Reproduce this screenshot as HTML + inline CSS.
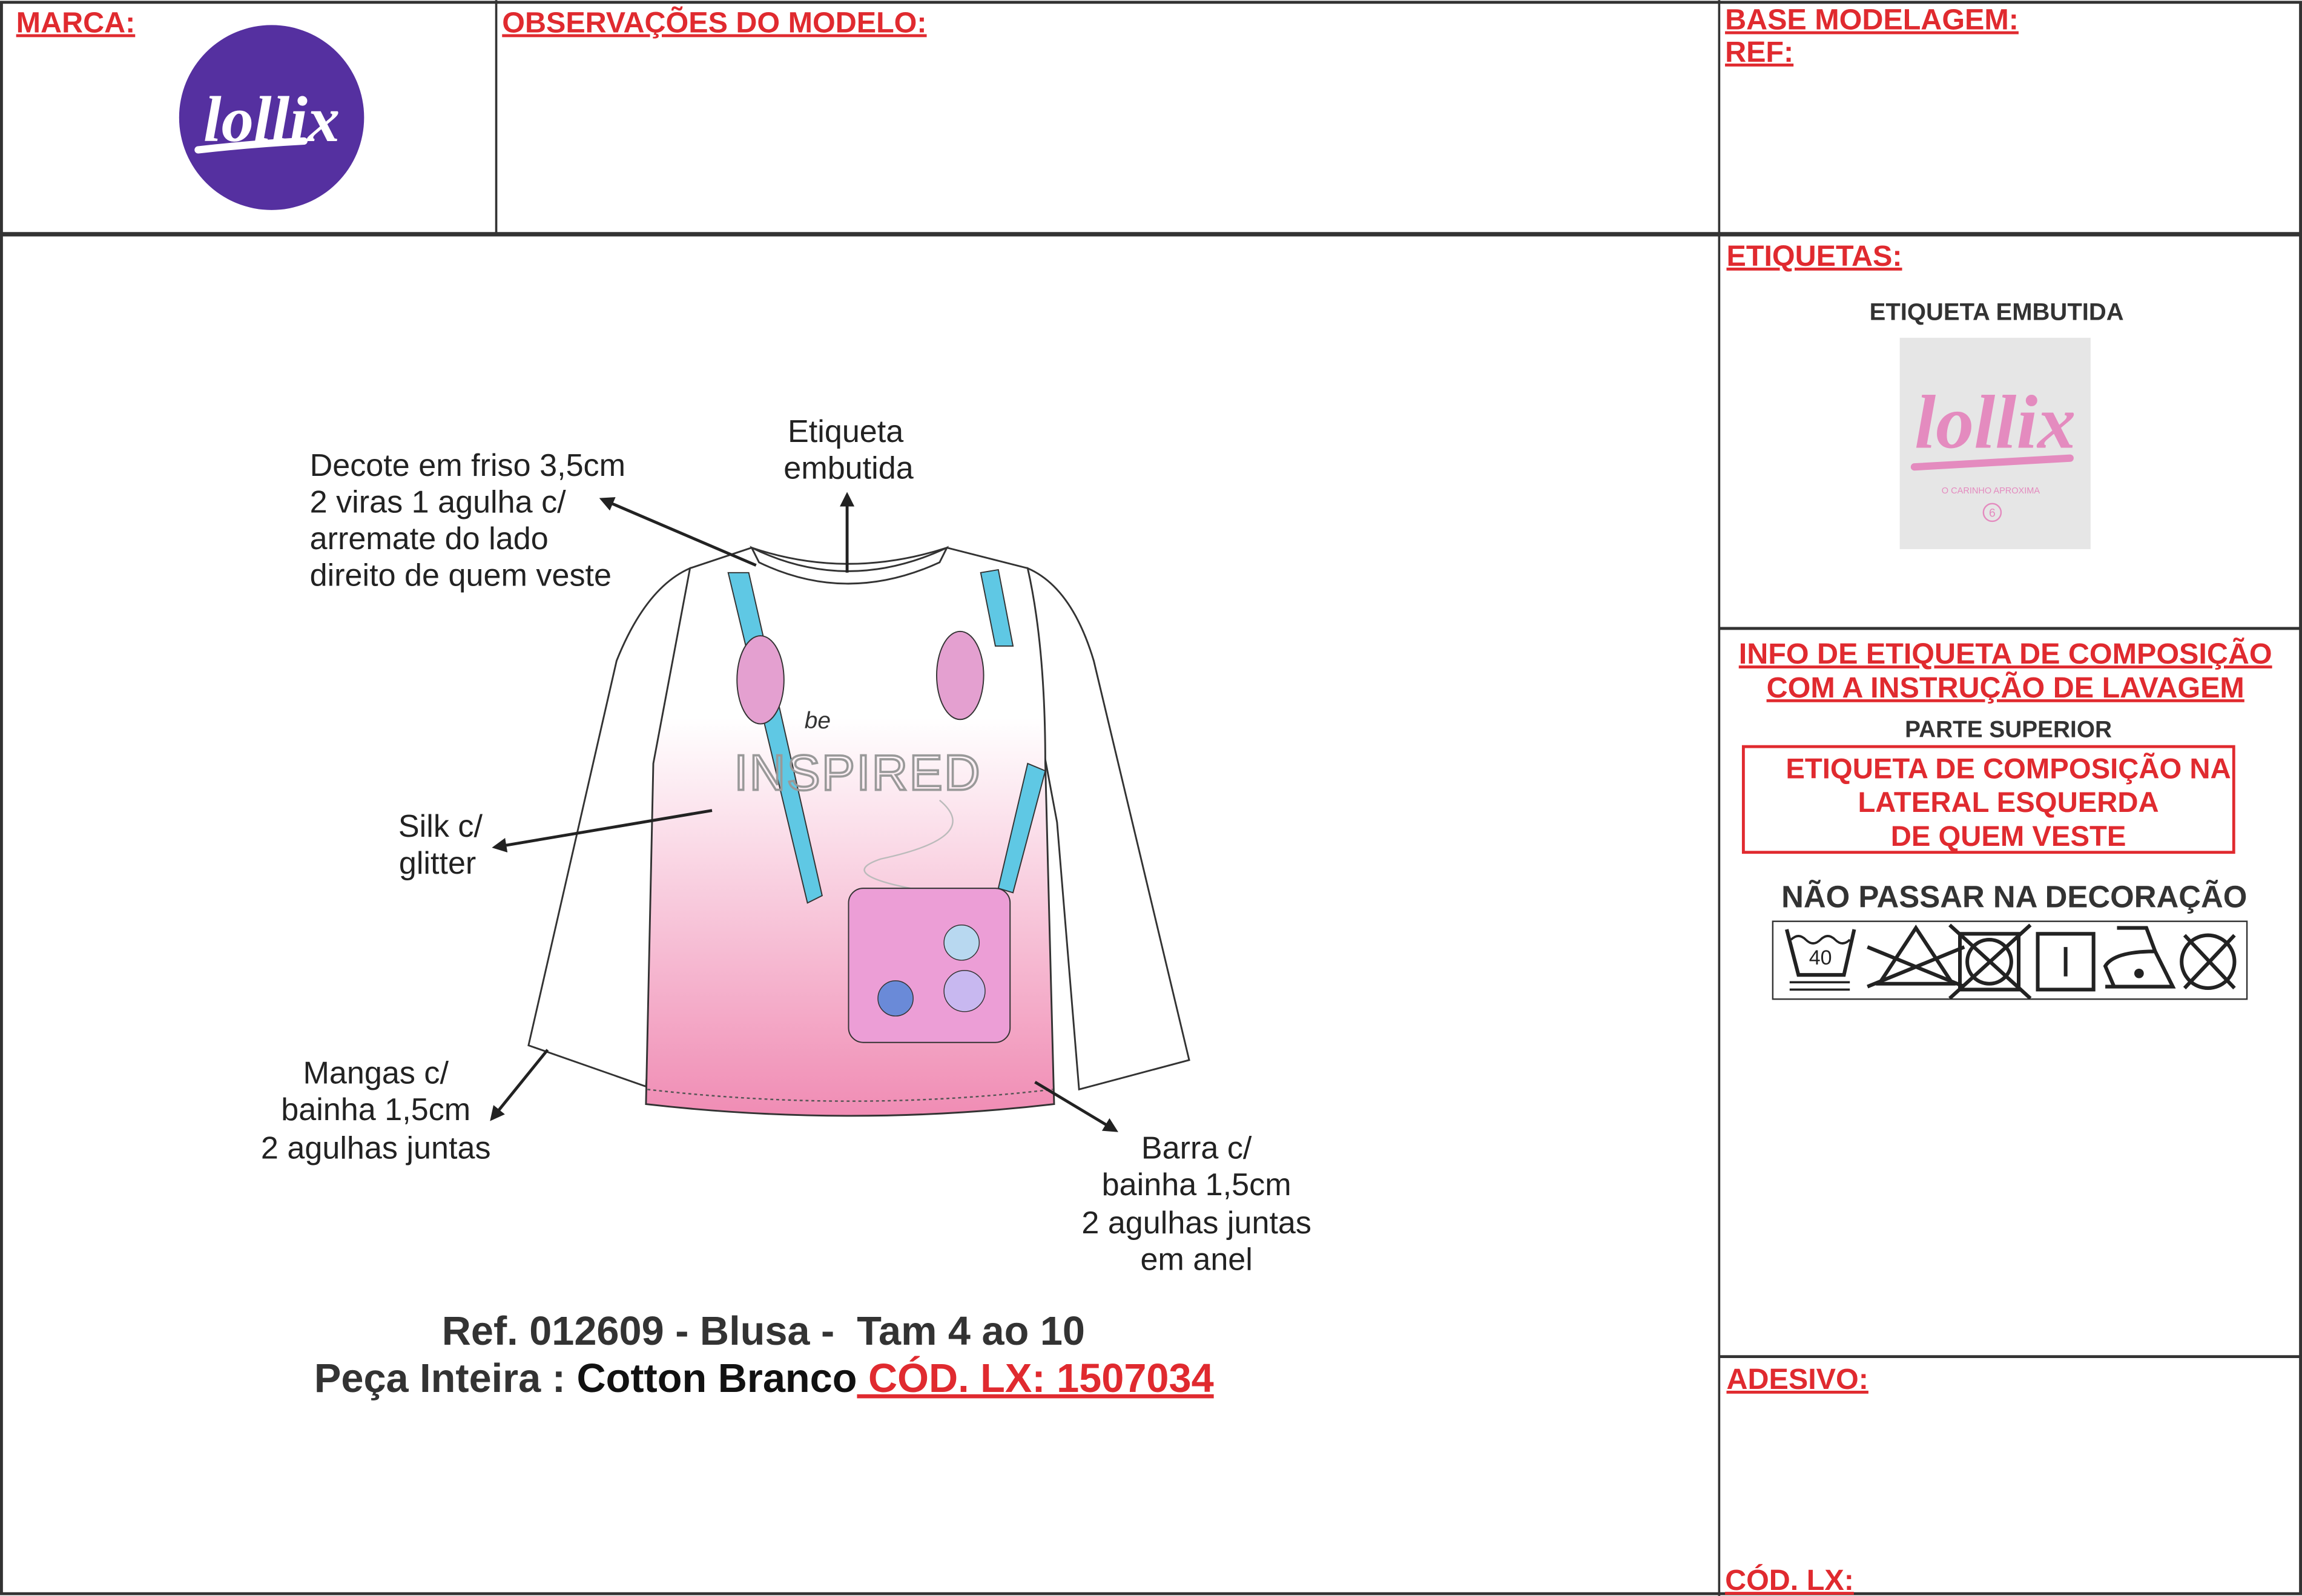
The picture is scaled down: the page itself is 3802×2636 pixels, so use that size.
<!DOCTYPE html>
<html><head><meta charset="utf-8"><style>html,body{margin:0;padding:0;background:#fff}svg{display:block}</style></head>
<body>
<svg width="3802" height="2636" viewBox="0 0 1568 1087" xmlns="http://www.w3.org/2000/svg" font-family="Liberation Sans, sans-serif">
<defs>
<linearGradient id="pk" x1="0" y1="0" x2="0" y2="1">
<stop offset="0" stop-color="#fff"/><stop offset="0.3" stop-color="#fff"/><stop offset="1" stop-color="#f08cb4"/>
</linearGradient>
<marker id="ar" markerWidth="10" markerHeight="10" refX="8" refY="5" orient="auto" markerUnits="userSpaceOnUse"><path d="M0,0 L10,5 L0,10 z" fill="#222"/></marker>
</defs>
<rect x="0" y="0" width="1568" height="1087" fill="#fff"/>
<g stroke="#333" fill="none">
<rect x="1" y="1.5" width="1566" height="1084" stroke-width="2"/>
<line x1="0" y1="159.5" x2="1568" y2="159.5" stroke-width="3"/>
<line x1="338" y1="0" x2="338" y2="159" stroke-width="1.5"/>
<line x1="1171" y1="0" x2="1171" y2="1087" stroke-width="1.5"/>
<line x1="1171" y1="428" x2="1568" y2="428" stroke-width="2"/>
<line x1="1171" y1="924" x2="1568" y2="924" stroke-width="2"/>
</g>
<g fill="#e02a2f" font-weight="bold" font-size="20" text-decoration="underline">
<text x="11" y="22">MARCA:</text>
<text x="342" y="22">OBSERVAÇÕES DO MODELO:</text>
<text x="1175" y="20">BASE MODELAGEM:</text>
<text x="1175" y="42">REF:</text>
<text x="1176" y="181">ETIQUETAS:</text>
<text x="1176" y="946">ADESIVO:</text>
<text x="1175" y="1083">CÓD. LX:</text>
</g>
<circle cx="185" cy="80" r="63" fill="#5530a0"/>
<text x="185" y="96" text-anchor="middle" fill="#fff" font-size="44" font-weight="bold" font-style="italic" font-family="Liberation Serif, serif">lollix</text>
<path d="M135,102 Q170,98 207,96" stroke="#fff" stroke-width="5" fill="none" stroke-linecap="round"/>
<text x="1360" y="218" text-anchor="middle" font-weight="bold" font-size="16.5" fill="#333">ETIQUETA EMBUTIDA</text>
<rect x="1294" y="230" width="130" height="144" fill="#e6e6e6"/>
<text x="1359" y="305" text-anchor="middle" fill="#e48bbf" font-size="52" font-weight="bold" font-family="Liberation Serif, serif" font-style="italic">lollix</text>
<path d="M1304,318 Q1360,315 1410,312" stroke="#e48bbf" stroke-width="5" fill="none" stroke-linecap="round"/>
<text x="1356" y="336" text-anchor="middle" fill="#e48bbf" font-size="6">O CARINHO APROXIMA</text>
<circle cx="1357" cy="349" r="6" fill="none" stroke="#e48bbf" stroke-width="1"/>
<text x="1357" y="352" text-anchor="middle" fill="#e48bbf" font-size="8">6</text>
<g fill="#e02a2f" font-weight="bold" font-size="20" text-anchor="middle" text-decoration="underline">
<text x="1366" y="452">INFO DE ETIQUETA DE COMPOSIÇÃO</text>
<text x="1366" y="475">COM A INSTRUÇÃO DE LAVAGEM</text>
</g>
<text x="1368" y="502" text-anchor="middle" font-weight="bold" font-size="16" fill="#333">PARTE SUPERIOR</text>
<rect x="1187.5" y="508.5" width="334" height="72" fill="none" stroke="#e02a2f" stroke-width="2"/>
<g fill="#e02a2f" font-weight="bold" font-size="19.5" text-anchor="middle">
<text x="1368" y="530">ETIQUETA DE COMPOSIÇÃO NA</text>
<text x="1368" y="553">LATERAL ESQUERDA</text>
<text x="1368" y="576">DE QUEM VESTE</text>
</g>
<text x="1372" y="618" text-anchor="middle" font-weight="bold" font-size="21" fill="#333">NÃO PASSAR NA DECORAÇÃO</text>
<rect x="1207.5" y="627.5" width="323" height="53" fill="none" stroke="#333" stroke-width="1"/>
<g stroke="#222" stroke-width="2.5" fill="none">
<path d="M1217,633 L1225,664 L1256,664 L1263,633"/>
<path d="M1220,640 q5,-5 10,0 q5,5 10,0 q5,-5 10,0 q5,5 10,0" stroke-width="1.5"/>
<line x1="1219" y1="669" x2="1260" y2="669" stroke-width="1.5"/><line x1="1219" y1="674" x2="1260" y2="674" stroke-width="1.5"/>
<path d="M1280,670 L1305,632 L1330,670 Z"/><line x1="1272" y1="645" x2="1338" y2="672"/><line x1="1272" y1="672" x2="1338" y2="645"/>
<rect x="1335" y="636" width="40" height="38"/><circle cx="1355" cy="655" r="15"/><line x1="1328" y1="630" x2="1383" y2="680"/><line x1="1328" y1="680" x2="1383" y2="630"/>
<rect x="1388" y="636" width="38" height="38"/><line x1="1407" y1="645" x2="1407" y2="665"/>
<path d="M1440,672 L1434,658 Q1440,648 1468,648 L1462,632 L1442,632 M1434,672 L1480,672 L1468,648"/>
<circle cx="1457" cy="663" r="2" fill="#222"/>
<circle cx="1504" cy="655" r="18"/><line x1="1488" y1="637" x2="1522" y2="673"/><line x1="1488" y1="673" x2="1522" y2="637"/>
</g>
<text x="1240" y="657" text-anchor="middle" font-size="14" fill="#222">40</text>
<g stroke="#333" stroke-width="1.2">
<path d="M470,387 Q440,400 420,450 L360,712 L440,740 L455,560 L470,480 Z" fill="#fff"/>
<path d="M700,387 Q730,400 745,450 L810,722 L735,742 L720,560 L705,480 Z" fill="#fff"/>
<path d="M470,387 L512,373 Q577,395 645,373 L700,387 Q712,440 712,520 L718,752 Q580,768 440,752 L445,520 Q460,440 470,387 Z" fill="url(#pk)"/>
<path d="M512,373 Q577,405 645,373 L640,383 Q577,412 517,383 Z" fill="#fff"/>
</g>
<path d="M441,742 Q580,758 717,742" stroke="#555" stroke-dasharray="2,2" fill="none"/>
<path d="M496,390 L510,390 L560,610 L550,615 Z" fill="#5fc8e4" stroke="#333" stroke-width="0.8"/>
<path d="M668,390 L680,388 L690,440 L678,440 Z" fill="#5fc8e4" stroke="#333" stroke-width="0.8"/>
<path d="M700,520 L712,525 L690,608 L680,605 Z" fill="#5fc8e4" stroke="#333" stroke-width="0.8"/>
<ellipse cx="518" cy="463" rx="16" ry="30" fill="#e4a0d0" stroke="#333" stroke-width="0.8"/>
<ellipse cx="654" cy="460" rx="16" ry="30" fill="#e4a0d0" stroke="#333" stroke-width="0.8"/>
<text x="548" y="496" font-size="16" fill="#333" font-style="italic">be</text>
<text x="500" y="538" font-size="34" fill="none" stroke="#999" stroke-width="1.5" letter-spacing="1">INSPIRED</text>
<path d="M640,545 Q670,570 600,585 Q570,595 620,605" stroke="#bbb" fill="none"/>
<rect x="578" y="605" width="110" height="105" rx="10" fill="#ec9ed6" stroke="#333" stroke-width="0.8"/>
<circle cx="655" cy="642" r="12" fill="#b8d8f0" stroke="#333" stroke-width="0.6"/>
<circle cx="657" cy="675" r="14" fill="#c8b8f0" stroke="#333" stroke-width="0.6"/>
<circle cx="610" cy="680" r="12" fill="#6a8ad8" stroke="#333" stroke-width="0.6"/>
<g font-size="21.5" fill="#222">
<text x="211" y="324">Decote em friso 3,5cm</text>
<text x="211" y="349">2 viras 1 agulha c/</text>
<text x="211" y="374">arremate do lado</text>
<text x="211" y="399">direito de quem veste</text>
<text x="576" y="301" text-anchor="middle">Etiqueta</text>
<text x="578" y="326" text-anchor="middle">embutida</text>
<text x="300" y="570" text-anchor="middle">Silk c/</text>
<text x="298" y="595" text-anchor="middle">glitter</text>
<text x="256" y="738" text-anchor="middle">Mangas c/</text>
<text x="256" y="763" text-anchor="middle">bainha 1,5cm</text>
<text x="256" y="789" text-anchor="middle">2 agulhas juntas</text>
<text x="815" y="789" text-anchor="middle">Barra c/</text>
<text x="815" y="814" text-anchor="middle">bainha 1,5cm</text>
<text x="815" y="840" text-anchor="middle">2 agulhas juntas</text>
<text x="815" y="865" text-anchor="middle">em anel</text>
</g>
<g stroke="#222" stroke-width="2" marker-end="url(#ar)">
<line x1="515" y1="385" x2="410" y2="340"/>
<line x1="577" y1="390" x2="577" y2="337"/>
<line x1="485" y1="552" x2="337" y2="577"/>
<line x1="373" y1="715" x2="335" y2="762"/>
<line x1="705" y1="737" x2="760" y2="770"/>
</g>
<text x="520" y="916" text-anchor="middle" font-weight="bold" font-size="27.5" fill="#333" xml:space="preserve">Ref. 012609 - Blusa -  Tam 4 ao 10</text>
<text x="214" y="948" font-weight="bold" font-size="27.5" fill="#333">Peça Inteira : <tspan fill="#111">Cotton Branco</tspan><tspan fill="#e02a2f" text-decoration="underline"> CÓD. LX: 1507034</tspan></text>
</svg>
</body></html>
